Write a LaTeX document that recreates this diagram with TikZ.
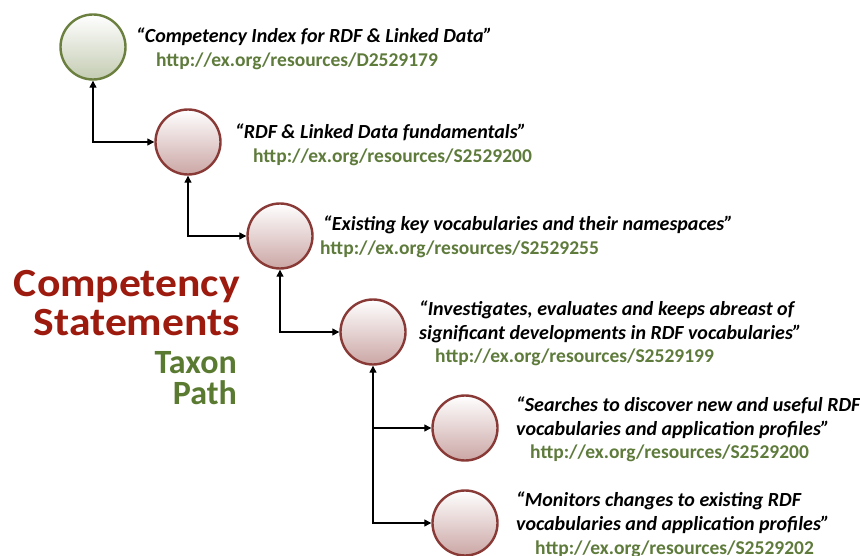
\documentclass[tikz,border=0pt]{standalone}
\usepackage{fontspec}
\setmainfont{Carlito}
\usetikzlibrary{arrows.meta}
\definecolor{circred}{HTML}{8A3A36}
\definecolor{circgreen}{HTML}{6B7F3E}
\definecolor{titlered}{HTML}{9C1A0E}
\definecolor{titlegreen}{HTML}{5A7A32}
\definecolor{urlgreen}{HTML}{5E7B3C}
\tikzset{
  x=1pt, y=-1pt,
  redcirc/.style={circle, minimum size=65pt, inner sep=0pt, draw=circred, line width=2.4pt,
    shading=axis, shading angle=45, top color=white, bottom color=circred!45!white},
  greencirc/.style={circle, minimum size=65pt, inner sep=0pt, draw=circgreen, line width=2.4pt,
    shading=axis, shading angle=45, top color=white, bottom color=circgreen!40!white},
  quote/.style={anchor=west, align=left, font=\fontsize{20}{24}\selectfont\bfseries\itshape, inner sep=0pt},
  url/.style={anchor=west, font=\fontsize{19.5}{22}\selectfont\bfseries, text=urlgreen, inner sep=0pt},
  conn/.style={line width=1.2pt, {Triangle[width=7pt,length=7pt]}-{Triangle[width=7pt,length=7pt]}},
  connone/.style={line width=1.2pt, -{Triangle[width=7pt,length=7pt]}},
  bigtitle/.style={anchor=base east, inner sep=0pt, font=\fontsize{40}{40}\selectfont\bfseries},
  smalltitle/.style={anchor=base east, inner sep=0pt, font=\fontsize{34}{34}\selectfont\bfseries}
}
\begin{document}
\begin{tikzpicture}
\useasboundingbox (0,0) rectangle (860,556);
\node[greencirc] (c0) at (93,47) {};
\node[redcirc] (c1) at (188,142) {};
\node[redcirc] (c2) at (280,236) {};
\node[redcirc] (c3) at (373,332) {};
\node[redcirc] (c4) at (465,428) {};
\node[redcirc] (c5) at (465,523) {};

\node[quote] (q0) at (136,37) {“Competency Index for RDF \& Linked Data”};
\node[url] (u0) at (156,61) {http://ex.org/resources/D2529179};
\node[quote] (q1) at (235,132) {“RDF \& Linked Data fundamentals”};
\node[url] (u1) at (253,157) {http://ex.org/resources/S2529200};
\node[quote] (q2) at (323,225) {“Existing key vocabularies and their namespaces”};
\node[url] (u2) at (320,249) {http://ex.org/resources/S2529255};
\node[quote] (q3) at (419,322) {“Investigates, evaluates and keeps abreast of\\significant developments in RDF vocabularies”};
\node[url] (u3) at (435,357) {http://ex.org/resources/S2529199};
\node[quote] (q4) at (516,418) {“Searches to discover new and useful RDF\\vocabularies and application profiles”};
\node[url] (u4) at (530,453) {http://ex.org/resources/S2529200};
\node[quote] (q5) at (516,513) {“Monitors changes to existing RDF\\vocabularies and application profiles”};
\node[url] (u5) at (535,549) {http://ex.org/resources/S2529202};

\node[bigtitle, text=titlered, text depth=0pt] (t1) at (240,297) {\scalebox{1.09}[1]{Competency}};
\node[bigtitle, text=titlered, text height=26pt] (t2) at (240,335) {\scalebox{1.09}[1]{Statements}};
\node[smalltitle, text=titlegreen, text depth=0pt] (t3) at (237,373) {Taxon};
\node[smalltitle, text=titlegreen, text height=21pt] (t4) at (237,404) {Path};

\draw[conn] (c0.south) |- (c1.west);
\draw[conn] (c1.south) |- (c2.west);
\draw[conn] (c2.south) |- (c3.west);
\draw[conn] (c3.south) |- (c4.west);
\draw[connone] (c3.south) ++(0,12) |- (c5.west);
\end{tikzpicture}
\end{document}
